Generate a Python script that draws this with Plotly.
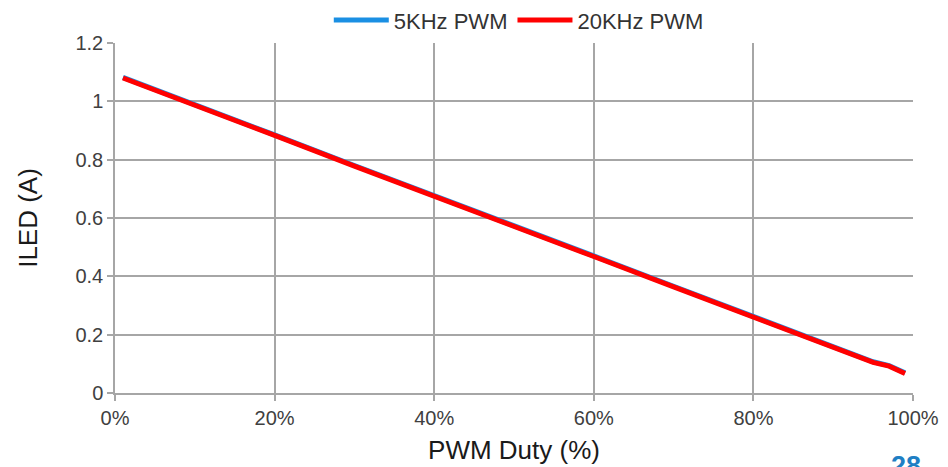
import plotly.graph_objects as go

duty_pct = [1, 10, 20, 30, 40, 50, 60, 70, 80, 90, 95, 97, 99]
iled_5khz = [1.082, 0.99, 0.885, 0.78, 0.678, 0.573, 0.47, 0.366, 0.262, 0.158, 0.107, 0.094, 0.069]
iled_20khz = [1.080, 0.988, 0.883, 0.778, 0.676, 0.571, 0.468, 0.364, 0.260, 0.156, 0.105, 0.092, 0.067]

x_ticks = [0, 20, 40, 60, 80, 100]
y_ticks = [0, 0.2, 0.4, 0.6, 0.8, 1, 1.2]
y_tick_labels = ["0", "0.2", "0.4", "0.6", "0.8", "1", "1.2"]

fig = go.Figure()
fig.add_trace(go.Scatter(x=duty_pct, y=iled_5khz, mode="lines", name="5KHz PWM",
                         line=dict(color="#1a8fe3", width=5)))
fig.add_trace(go.Scatter(x=duty_pct, y=iled_20khz, mode="lines", name="20KHz PWM",
                         line=dict(color="#ff0000", width=5)))

grid = "#a6a6a6"
FONT = "Liberation Sans, Arial, sans-serif"
fig.update_layout(
    width=948, height=467,
    margin=dict(l=107, r=43, t=35, b=82, autoexpand=False),
    paper_bgcolor="white", plot_bgcolor="white",
    font=dict(family=FONT, size=20, color="#404040"),
    showlegend=True,
    legend=dict(orientation="h", x=0.506, xanchor="center", yref="container", y=0.974, yanchor="middle",
                font=dict(size=22, color="#333333"), itemwidth=55,
                bgcolor="rgba(0,0,0,0)"),
    xaxis=dict(range=[0, 100], tickvals=x_ticks, ticktext=[f"{v}%" for v in x_ticks],
               showgrid=True, gridcolor=grid, gridwidth=1.5,
               showline=True, linecolor=grid, linewidth=1.5,
               ticks="outside", ticklen=6, tickcolor=grid, tickwidth=1.5,
               zeroline=False,
               tickfont=dict(size=20, color="#404040"),
               title=dict(text="PWM Duty (%)", font=dict(size=26, color="#1a1a1a"), standoff=13)),
    yaxis=dict(range=[0, 1.2], tickvals=y_ticks, ticktext=y_tick_labels,
               showgrid=True, gridcolor=grid, gridwidth=1.5,
               showline=True, linecolor=grid, linewidth=1.5,
               ticks="outside", ticklen=6, tickcolor=grid, tickwidth=1.5,
               zeroline=False,
               tickfont=dict(size=20, color="#404040"),
               title=dict(text="ILED (A)", font=dict(size=26, color="#1a1a1a"), standoff=30)),
)

fig.add_annotation(text="<b>28</b>", xref="paper", yref="paper", x=0.991, y=-0.16,
                   xanchor="center", yanchor="top", showarrow=False,
                   font=dict(size=27, color="#1f7fc4", family=FONT))

fig.write_html("out.html")
